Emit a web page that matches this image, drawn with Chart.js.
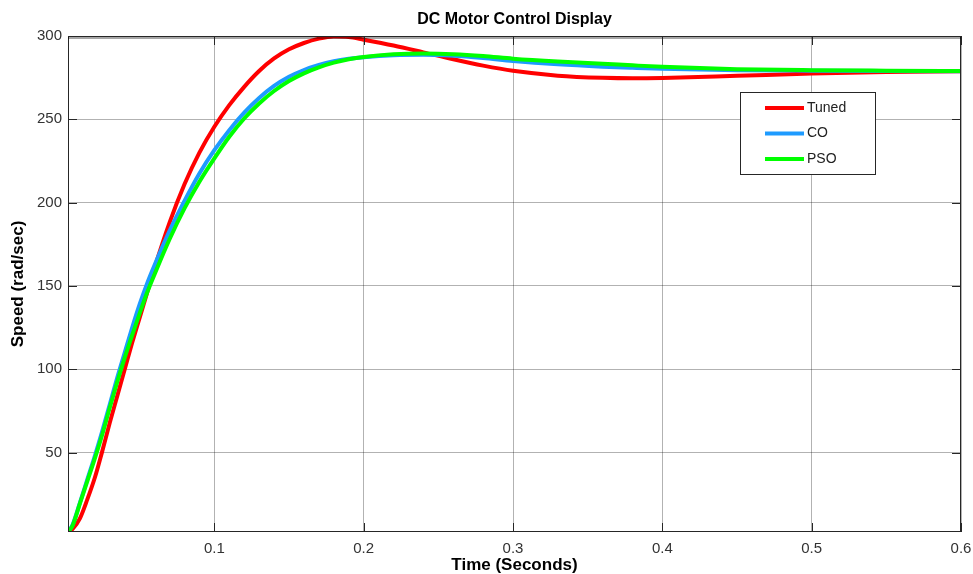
<!DOCTYPE html>
<html>
<head>
<meta charset="utf-8">
<title>DC Motor Control Display</title>
<script src="https://cdn.jsdelivr.net/npm/chart.js@4.4.1/dist/chart.umd.min.js"></script>
<style>
  html, body { margin: 0; padding: 0; background: #fff; }
  #wrap { width: 973px; height: 574px; }
</style>
</head>
<body>
<div id="wrap"><canvas id="chart" width="973" height="574"></canvas></div>
<script>
"use strict";

// tider (s) och hastigheter (rad/s)
const timeSec = [0.002, 0.005, 0.01, 0.015, 0.02, 0.025, 0.03, 0.035, 0.04, 0.045, 0.05, 0.055, 0.06, 0.07, 0.08, 0.09, 0.1, 0.11, 0.12, 0.13, 0.14, 0.15, 0.16, 0.17, 0.18, 0.19, 0.2, 0.22, 0.24, 0.26, 0.28, 0.3, 0.33, 0.36, 0.38, 0.4, 0.45, 0.5, 0.55, 0.6];
const tunedSpeed = [2.3, 4, 10.5, 22, 35, 51, 68, 84, 100, 116, 131, 146, 161, 188, 211, 230, 245.5, 258.5, 269.5, 279, 286.5, 292, 295.8, 298.4, 299.7, 299.4, 297.8, 294.3, 290.2, 286, 282.2, 279.1, 276.2, 274.9, 274.6, 274.8, 276.1, 277.5, 278.4, 278.9];
const coSpeed = [2.3, 6.5, 20, 34, 48, 63, 79, 95, 110, 125, 139, 151.5, 162.5, 183, 201, 217.5, 231.5, 243.5, 254, 262.8, 270, 275.5, 279.6, 282.6, 284.8, 286.3, 287.3, 288.5, 288.8, 288.2, 286.8, 285, 283, 281.6, 280.9, 280.3, 279.5, 279.2, 279, 278.9];
const psoSpeed = [2.3, 6, 19.5, 33, 46.5, 61, 77, 92.5, 107, 120.5, 133.5, 146, 157, 178, 196.5, 212.5, 226.5, 239.5, 250.5, 259.5, 267, 273, 277.6, 281.2, 284, 286, 287.4, 289, 289.5, 289.1, 288, 286.4, 284.7, 283.4, 282.4, 281.5, 280.1, 279.5, 279.2, 279];

const seriesNames = ["Tuned", "CO", "PSO"];
const seriesColors = ["#ff0000", "#1e9bff", "#00ff00"];
const xTicks = [0.1, 0.2, 0.3, 0.4, 0.5, 0.6];
const yTicks = [50, 100, 150, 200, 250, 300];

const FONT = "'Liberation Sans', Arial, Helvetica, sans-serif";

function toPoints(values) {
    return values.map((v, i) => ({ x: timeSec[i], y: v }));
}

// titel, ram, tickmarkeringar och legend ritas här
const decorPlugin = {
    id: "decor",
    afterDraw(chart) {
        const ctx = chart.ctx;
        const a = chart.chartArea;
        const xs = chart.scales.x;
        const ys = chart.scales.y;
        ctx.save();

        // titel
        ctx.fillStyle = "#000";
        ctx.font = "bold 16px " + FONT;
        ctx.textAlign = "center";
        ctx.textBaseline = "middle";
        ctx.fillText("DC Motor Control Display", (a.left + a.right) / 2, 20);

        // ram runt ritytan
        ctx.strokeStyle = "#262626";
        ctx.lineWidth = 1;
        ctx.strokeRect(a.left + 0.5, a.top + 0.5, a.right - a.left - 1, a.bottom - a.top - 1);
        ctx.strokeStyle = "rgba(0,0,0,0.35)";
        ctx.lineWidth = 2;
        ctx.beginPath();
        ctx.moveTo(a.left, a.top + 2);
        ctx.lineTo(a.right, a.top + 2);
        ctx.stroke();

        // tickmarkeringar inåt
        ctx.strokeStyle = "#262626";
        ctx.lineWidth = 1;
        ctx.beginPath();
        xTicks.forEach(v => {
            const px = Math.round(xs.getPixelForValue(v)) + 0.5;
            ctx.moveTo(px, a.bottom); ctx.lineTo(px, a.bottom - 9);
            ctx.moveTo(px, a.top); ctx.lineTo(px, a.top + 9);
        });
        yTicks.forEach(v => {
            const py = Math.round(ys.getPixelForValue(v)) + 0.5;
            ctx.moveTo(a.left, py); ctx.lineTo(a.left + 9, py);
            ctx.moveTo(a.right, py); ctx.lineTo(a.right - 9, py);
        });
        ctx.stroke();

        // legend
        const bx = 740, by = 92, bw = 135, bh = 82;
        ctx.fillStyle = "#fff";
        ctx.fillRect(bx, by, bw, bh);
        ctx.strokeStyle = "#262626";
        ctx.strokeRect(bx + 0.5, by + 0.5, bw, bh);
        ctx.font = "14px " + FONT;
        ctx.textAlign = "left";
        ctx.textBaseline = "middle";
        chart.data.datasets.forEach((ds, i) => {
            const y = by + 16 + i * 25.5;
            ctx.strokeStyle = ds.borderColor;
            ctx.lineWidth = 4;
            ctx.beginPath();
            ctx.moveTo(765, y);
            ctx.lineTo(804, y);
            ctx.stroke();
            ctx.fillStyle = "#222";
            ctx.fillText(ds.label, 807, y);
        });
        ctx.restore();
    }
};

function createChart() {
    const ctx = document.getElementById("chart").getContext("2d");
    const values = [tunedSpeed, coSpeed, psoSpeed];

    new Chart(ctx, {
        type: "line",
        data: {
            datasets: values.map((vals, i) => ({
                label: seriesNames[i],
                data: toPoints(vals),
                borderColor: seriesColors[i],
                backgroundColor: seriesColors[i],
                borderWidth: 4,
                pointRadius: 0,
                fill: false,
                cubicInterpolationMode: "monotone",
                order: 3 - i // PSO ritas överst
            }))
        },
        options: {
            responsive: false,
            animation: false,
            layout: { padding: { top: 36, right: 12, left: 0, bottom: 0 } },
            plugins: {
                legend: { display: false },
                title: { display: false },
                tooltip: { enabled: false }
            },
            scales: {
                x: {
                    type: "linear",
                    min: 0.002,
                    max: 0.6,
                    afterBuildTicks: s => { s.ticks = xTicks.map(v => ({ value: v })); },
                    afterFit: s => { s.height = 42; s.paddingLeft = 0; s.paddingRight = 0; },
                    border: { display: false },
                    grid: { color: "rgba(0,0,0,0.3)", drawTicks: false },
                    ticks: {
                        padding: 8,
                        maxRotation: 0,
                        color: "#333",
                        font: { family: FONT, size: 15 },
                        callback: v => v.toFixed(1)
                    },
                    title: {
                        display: true,
                        text: "Time (Seconds)",
                        color: "#000",
                        font: { family: FONT, size: 17, weight: "bold" },
                        padding: { top: 0, bottom: -2 }
                    }
                },
                y: {
                    min: 2.3,
                    max: 300,
                    afterBuildTicks: s => { s.ticks = yTicks.map(v => ({ value: v })); },
                    afterFit: s => { s.width = 68; },
                    border: { display: false },
                    grid: { color: "rgba(0,0,0,0.3)", drawTicks: false },
                    ticks: {
                        padding: 6,
                        color: "#333",
                        font: { family: FONT, size: 15 }
                    },
                    title: {
                        display: true,
                        text: "Speed (rad/sec)",
                        color: "#000",
                        font: { family: FONT, size: 17, weight: "bold" },
                        padding: { top: 8, bottom: 0 }
                    }
                }
            }
        },
        plugins: [decorPlugin]
    });
}

window.onload = createChart;
</script>
</body>
</html>
